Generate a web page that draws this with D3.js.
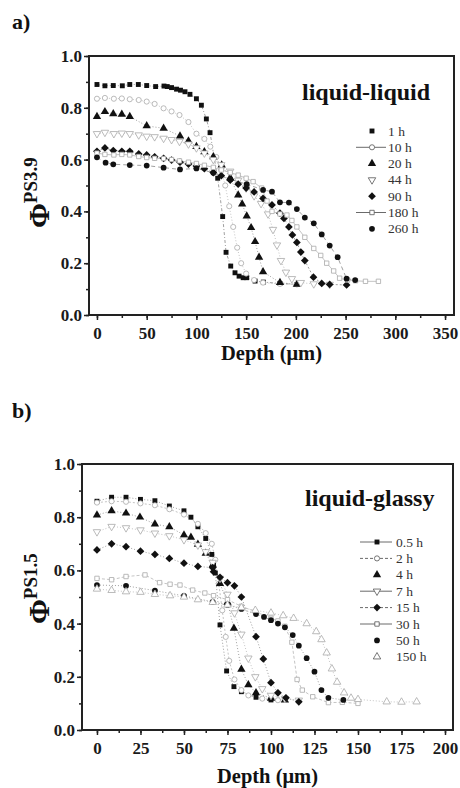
<!DOCTYPE html>
<html><head><meta charset="utf-8">
<script src="https://cdn.jsdelivr.net/npm/d3@7"></script>
<style>body{margin:0;background:#fff}svg{display:block}</style>
</head><body>
<svg id="c" width="460" height="788"></svg>
<script>
// ---------- DATA (panel a: liquid-liquid, PS3.9) ----------
const aLabels = ["1 h","10 h","20 h","44 h","90 h","180 h","260 h"];
const aXTicks = [0,50,100,150,200,250,300,350];
const yTicks = [0,0.2,0.4,0.6,0.8,1.0];
const a_1h = [[0,.89],[8,.885],[16.4,.886],[25.5,.885],[33,.89],[41.6,.89],[50,.886],[59,.882],[67.4,.884],[70.7,.882],[75,.878],[80,.872],[84,.868],[88.5,.862],[93.5,.852],[100,.835],[105,.81],[110,.757],[113.7,.704],[121.4,.528],[126.4,.38],[129.8,.242],[134.5,.189],[138.8,.163],[142.9,.15],[147,.144],[150.6,.144],[159,.131],[167.3,.127],[184,.122],[201,.118]];
const a_10h = [[0,.835],[8,.838],[17,.835],[25,.836],[33,.833],[42,.83],[50,.824],[58,.815],[67,.798],[75,.786],[83,.772],[92,.745],[100,.70],[108,.68],[114,.65],[120,.61],[125,.56],[129,.5],[133,.42],[137,.34],[141,.26],[145,.2],[150,.16],[158,.135],[167,.125],[184,.12],[201,.118]];
const a_20h = [[0,.766],[8,.785],[16.4,.777],[25,.775],[33,.766],[50,.73],[67,.721],[83.5,.691],[92,.672],[100,.65],[108,.63],[117,.611],[125.4,.579],[134,.53],[142,.463],[146,.428],[150.6,.382],[155,.337],[159,.283],[163,.223],[167,.167],[184,.125],[201,.118]];
const a_44h = [[0,.70],[8,.705],[17,.70],[25,.702],[33,.70],[42,.695],[50,.69],[58,.688],[67,.682],[75,.677],[83,.67],[92,.66],[100,.645],[108,.625],[117,.60],[125,.58],[134,.555],[142,.52],[150,.49],[158,.46],[165,.43],[172,.39],[177,.33],[181,.27],[185,.21],[190,.165],[196,.14],[205,.125],[218,.12],[234,.118]];
const a_90h = [[0,.632],[8,.645],[16.4,.635],[25,.632],[33,.632],[42,.622],[50,.618],[58,.611],[67,.605],[75,.598],[83.5,.59],[92,.583],[100,.575],[108,.565],[117,.55],[125,.538],[134,.521],[142,.505],[150,.49],[158,.475],[167,.45],[176,.425],[184,.393],[188,.373],[193,.34],[196.5,.309],[201,.28],[205,.243],[209,.21],[217.7,.146],[226,.122],[234,.118],[251,.116]];
const a_180h = [[0,.625],[8,.62],[17,.618],[25,.62],[33,.618],[42,.612],[50,.608],[58,.605],[67,.604],[75,.6],[83,.595],[92,.59],[100,.585],[108,.578],[117,.57],[125,.56],[134,.55],[142,.54],[150,.528],[157,.515],[165.6,.49],[171,.44],[176,.40],[184,.39],[191,.386],[196,.365],[201,.34],[209,.30],[218,.257],[225,.23],[231,.2],[238,.17],[244,.142],[252,.135],[260,.132],[270,.13],[283,.13]];
const a_260h = [[0,.609],[8.7,.588],[16.4,.582],[33,.579],[50,.577],[67,.569],[83.5,.562],[100,.566],[117,.549],[134,.524],[150.6,.505],[167,.483],[176,.476],[184,.435],[193,.434],[201,.409],[209,.376],[218,.354],[226,.311],[234,.268],[242,.223],[251,.14],[259.6,.135]];

// ---------- DATA (panel b: liquid-glassy, PS1.5) ----------
const bLabels = ["0.5 h","2 h","4 h","7 h","15 h","30 h","50 h","150 h"];
const bXTicks = [0,25,50,75,100,125,150,175,200];
const b_05h = [[0,.86],[8.4,.875],[16.7,.875],[25,.867],[33.3,.862],[41.6,.842],[50,.824],[54,.8],[58,.764],[62.5,.72],[66,.66],[67,.62],[68,.59],[70.7,.395],[74.5,.222],[78.7,.163],[83,.144],[91.4,.123],[100,.113]];
const b_2h = [[0,.855],[8.4,.86],[16.7,.858],[25,.852],[33.3,.845],[41.6,.83],[50,.81],[58,.775],[62.5,.74],[66,.70],[68,.64],[70,.55],[72,.45],[74,.35],[76,.26],[79,.19],[83,.15],[87,.13],[95,.118],[104,.112]];
const b_4h = [[0,.808],[8.4,.824],[16.7,.815],[24.7,.80],[33.3,.774],[41.6,.764],[50,.733],[54,.724],[58,.698],[62.5,.664],[66.5,.62],[70.7,.55],[75,.48],[78.7,.382],[83,.228],[87,.17],[91.4,.14],[100,.119],[108,.112]];
const b_7h = [[0,.745],[8.4,.765],[16.7,.76],[25,.752],[33.3,.74],[41.6,.73],[50,.715],[58,.695],[62.5,.67],[66.5,.63],[70.7,.57],[75,.51],[79,.44],[83,.36],[87,.27],[91,.2],[95,.155],[100,.13],[108,.118],[116,.112]];
const b_15h = [[0,.677],[8.4,.70],[16.7,.689],[25,.672],[33.3,.66],[41.6,.645],[50,.627],[58,.615],[66.5,.61],[67,.595],[70.7,.574],[75,.554],[79,.542],[83,.50],[91.4,.351],[95.6,.267],[100,.178],[104,.14],[108.6,.121],[116,.106]];
const b_30h = [[0,.57],[8.4,.565],[16.7,.577],[27.6,.583],[36,.554],[42,.548],[47.7,.545],[55,.526],[62,.515],[67,.505],[75,.49],[83,.465],[91,.445],[100,.42],[104,.41],[108,.39],[112,.33],[115,.19],[118,.15],[124,.125],[133,.103],[141,.104],[150,.10]];
const b_50h = [[0,.545],[16.7,.542],[33.3,.524],[50,.504],[66.5,.482],[75,.47],[83,.455],[91.4,.436],[96,.425],[100,.413],[104,.40],[108,.386],[112.5,.357],[116,.317],[120.5,.27],[125,.219],[129,.15],[133,.121],[141.6,.113]];
const b_150h = [[0,.53],[8.4,.525],[16.7,.52],[25,.518],[33.3,.51],[42,.505],[50,.5],[58,.49],[66.5,.48],[75,.47],[83,.46],[91,.45],[100,.44],[107,.43],[113,.42],[120.5,.40],[126,.37],[129,.34],[132,.29],[135,.23],[138,.18],[142,.14],[146,.12],[150,.115],[166.5,.106],[175,.105],[183.7,.106]];

const FONT = "'Liberation Serif','Times New Roman',Times,serif";
const svg = d3.select("#c");

const aSeries = [
  {d:a_1h,   m:"square",  f:true,  dash:"3,2,1,2", leg:false},
  {d:a_10h,  m:"circle",  f:false, dash:"1,2",     leg:true,  legDash:null},
  {d:a_20h,  m:"tri",     f:true,  dash:"1,2",     leg:false},
  {d:a_44h,  m:"tridown", f:false, dash:"1,2",     leg:false},
  {d:a_90h,  m:"diamond", f:true,  dash:"2,2",     leg:false},
  {d:a_180h, m:"square",  f:false, dash:null,      leg:true,  legDash:null},
  {d:a_260h, m:"circle",  f:true,  dash:"4,3",     leg:false}
];
const bSeries = [
  {d:b_05h,  m:"square",  f:true,  dash:"1,2", leg:true, legDash:null},
  {d:b_2h,   m:"circle",  f:false, dash:"2,2", leg:true, legDash:"3,2"},
  {d:b_4h,   m:"tri",     f:true,  dash:"1,2", leg:false},
  {d:b_7h,   m:"tridown", f:false, dash:"1,2", leg:true, legDash:null},
  {d:b_15h,  m:"diamond", f:true,  dash:"1,2", leg:true, legDash:"3,2"},
  {d:b_30h,  m:"square",  f:false, dash:"3,2", leg:true, legDash:null},
  {d:b_50h,  m:"circle",  f:true,  dash:"1,2", leg:false},
  {d:b_150h, m:"tri",     f:false, dash:"1,2", leg:false}
];

function symPath(m, open){
  const k = open ? 0.8 : 1;
  const t = {square:[d3.symbolSquare,24], circle:[d3.symbolCircle,26], tri:[d3.symbolTriangle,30],
             tridown:[d3.symbolTriangle,30], diamond:[d3.symbolSquare,30]}[m];
  return d3.symbol().type(t[0]).size(t[1]*k)();
}
function drawMarker(g, x, y, s, legend){
  const rot = s.m==="tridown" ? " rotate(180)" : (s.m==="diamond" ? " rotate(45)" : "");
  g.append("path").attr("d", symPath(s.m, !s.f))
    .attr("transform", `translate(${x},${y})` + rot)
    .attr("fill", s.f ? "#111" : "#fff")
    .attr("stroke", s.f ? "none" : (legend ? "#555" : "#aaa"))
    .attr("stroke-width", 0.8);
}

function panel(o){
  const x = d3.scaleLinear().domain(o.xd).range([o.L, o.R]);
  const y = d3.scaleLinear().domain([0,1]).range([o.B, o.T]);
  const g = svg.append("g");
  const line = d3.line().x(d=>x(d[0])).y(d=>y(d[1]));
  o.series.forEach(s=>{
    g.append("path").datum(s.d).attr("d", line).attr("fill","none")
      .attr("stroke", s.f ? "#777" : "#aaa").attr("stroke-width", 0.7)
      .attr("stroke-dasharray", s.dash);
  });
  o.series.forEach(s=>{ s.d.forEach(p=>drawMarker(g, x(p[0]), y(p[1]), s, false)); });

  // axes
  const xMinor = d3.range(0, o.xd[1], o.xstep/2);
  const ax = g.append("g").attr("transform",`translate(0,${o.B})`)
    .call(d3.axisBottom(x).tickValues(xMinor).tickSize(3).tickFormat(""));
  ax.select(".domain").remove();
  const axM = g.append("g").attr("transform",`translate(0,${o.B})`)
    .call(d3.axisBottom(x).tickValues(o.xticks).tickSize(5).tickPadding(o.xpad).tickFormat(d3.format("d")));
  axM.select(".domain").remove();
  const ay = g.append("g").attr("transform",`translate(${o.L},0)`)
    .call(d3.axisLeft(y).tickValues(d3.range(0,1.001,0.1)).tickSize(3).tickFormat(""));
  ay.select(".domain").remove();
  const ayM = g.append("g").attr("transform",`translate(${o.L},0)`)
    .call(d3.axisLeft(y).tickValues(yTicks).tickSize(5).tickPadding(2).tickFormat(d3.format(".1f")));
  ayM.select(".domain").remove();
  g.selectAll(".tick line").attr("stroke","#222").attr("stroke-width",1.5);
  g.selectAll(".tick text").attr("font-family",FONT).attr("font-weight","bold")
    .attr("font-size",17).attr("fill","#1a1a1a");
  g.append("rect").attr("x",o.L).attr("y",o.T).attr("width",o.R-o.L).attr("height",o.B-o.T)
    .attr("fill","none").attr("stroke","#222").attr("stroke-width",2);

  // texts
  svg.append("text").attr("x",12).attr("y",o.tagY).text(o.tag)
    .attr("font-family",FONT).attr("font-weight","bold").attr("font-size",22).attr("fill","#111");
  svg.append("text").attr("x",(o.L+o.R)/2).attr("y",o.B+o.depthDy).attr("text-anchor","middle")
    .text("Depth (\u03bcm)").attr("font-family",FONT).attr("font-weight","bold").attr("font-size",20.5).attr("fill","#111");
  const yl = svg.append("text").attr("transform",`translate(49,${o.ylY}) rotate(-90)`)
    .attr("font-family",FONT).attr("font-weight","bold").attr("fill","#111");
  yl.append("tspan").text("\u03a6").attr("font-size",30);
  yl.append("tspan").text(o.sup).attr("font-size",19).attr("dy",-12);
  svg.append("text").attr("x",o.titleX).attr("y",o.titleY).text(o.title)
    .attr("font-family",FONT).attr("font-weight","bold").attr("font-size",24).attr("fill","#111");

  // legend
  o.series.forEach((s,i)=>{
    const ly = o.legY + i*o.legStep;
    if (s.leg) {
      g.append("line").attr("x1",o.legX1).attr("x2",o.legX2).attr("y1",ly).attr("y2",ly)
        .attr("stroke","#444").attr("stroke-width",0.8).attr("stroke-dasharray",s.legDash);
    }
    drawMarker(g, o.legM, ly, s, true);
    g.append("text").attr("x",o.legT).attr("y",ly+4.5).text(o.labels[i])
      .attr("font-family",FONT).attr("font-size",13.5).attr("fill","#333");
  });
}

panel({xd:[-8,359], L:89, R:454, T:56, B:315, xticks:aXTicks, xstep:50, xpad:7,
  series:aSeries, labels:aLabels, tag:"a)", tagY:29, depthDy:45, ylY:228, sup:"PS3.9",
  title:"liquid-liquid", titleX:302, titleY:100,
  legY:131, legStep:16.3, legM:372, legT:388, legX1:356, legX2:386});
panel({xd:[-8.6,204.6], L:82, R:453, T:464, B:730, xticks:bXTicks, xstep:25, xpad:7,
  series:bSeries, labels:bLabels, tag:"b)", tagY:418, depthDy:53, ylY:624, sup:"PS1.5",
  title:"liquid-glassy", titleX:305, titleY:506,
  legY:542, legStep:16.4, legM:377, legT:396, legX1:360, legX2:392});
</script>
</body></html>
